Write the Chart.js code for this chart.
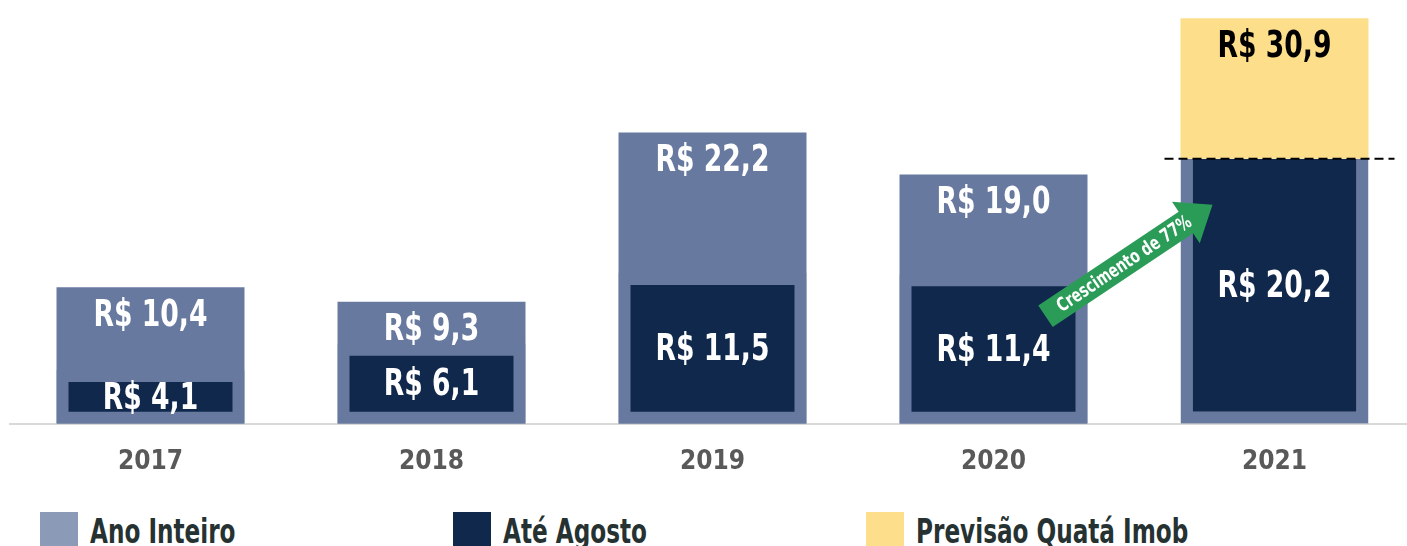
<!DOCTYPE html>
<html>
<head>
<meta charset="utf-8">
<script src="https://cdn.jsdelivr.net/npm/chart.js@4"></script>
<style>
  body { margin: 0; background: #fff; overflow: hidden; width: 1407px; height: 546px; position: relative; }
  #wrap { position: absolute; left: 0; top: 0; width: 1415px; height: 501px; }
  #legend { position: absolute; left: 40px; top: 512px; display: flex; }
  .item { width: 413px; display: flex; align-items: flex-start; }
  .sw { width: 38px; height: 40px; margin-right: 12px; flex: none; }
  .lbl { font: bold 33px "DejaVu Sans Condensed", sans-serif; color: #263232; transform: scaleX(0.78); transform-origin: left top; white-space: nowrap; margin-top: 0px; }
</style>
</head>
<body>
<div id="wrap"><canvas id="chart"></canvas></div>
<div id="legend"></div>
<script>
// data
const years = ['2017', '2018', '2019', '2020', '2021'];
const anoInteiro = [10.4, 9.3, 22.2, 19.0, null];
const ateAgosto = [4.1, 6.1, 11.5, 11.4, 20.2];
const previsao = [null, null, null, null, [20.2, 30.9]];
const seriesNames = ['Ano Inteiro', 'Até Agosto', 'Previsão Quatá Imob'];
const growthText = 'Crescimento de 77%';

const slate = '#68799f';
const navy = '#10284c';
const yellow = '#fddf8b';
const legendColors = ['#8b9ab7', navy, yellow];

function fmt(v) {
  return 'R$ ' + v.toFixed(1).replace('.', ',');
}

// condensed text: squeeze horizontally around x
function narrowText(ctx, text, x, y, sx) {
  ctx.save();
  ctx.translate(x, y);
  ctx.scale(sx, 1);
  ctx.fillText(text, 0, 0);
  ctx.restore();
}

const labelFont = 'bold 37px "DejaVu Sans Condensed", sans-serif';

// bar labels, dashed line and growth arrow
const extras = {
  id: 'extras',
  afterDatasetsDraw(chart) {
    const ctx = chart.ctx;
    const xs = chart.scales.x, ys = chart.scales.y;
    ctx.save();
    ctx.font = labelFont;
    ctx.textAlign = 'center';
    ctx.textBaseline = 'middle';

    chart.data.datasets.forEach((ds, di) => {
      const meta = chart.getDatasetMeta(di);
      meta.data.forEach((bar, i) => {
        const raw = ds.data[i];
        if (raw == null) return;
        if (di === 1) {
          const top = i === 4 ? bar.y : bar.y + 12;
          ctx.fillStyle = '#fff';
          narrowText(ctx, fmt(raw), bar.x, (top + bar.base - 12) / 2 + 2, 0.8);
        } else {
          const v = Array.isArray(raw) ? raw[1] : raw;
          const top = Math.min(bar.y, bar.base);
          ctx.fillStyle = di === 2 ? '#000' : '#fff';
          narrowText(ctx, fmt(v), bar.x, top + 29, 0.8);
        }
      });
    });

    // dashed line at end of Até Agosto 2021
    const x21 = xs.getPixelForValue(4);
    const yd = ys.getPixelForValue(ateAgosto[4]);
    ctx.strokeStyle = '#000';
    ctx.lineWidth = 2;
    ctx.setLineDash([9, 5]);
    ctx.beginPath();
    ctx.moveTo(x21 - 110, yd);
    ctx.lineTo(x21 + 120, yd);
    ctx.stroke();
    ctx.setLineDash([]);

    // growth arrow
    const x20 = xs.getPixelForValue(3);
    const ax = x20 + 52, ay = ys.getPixelForValue(8.2);
    const bx = x21 - 62, by = ys.getPixelForValue(16.7);
    const ang = Math.atan2(by - ay, bx - ax);
    const len = Math.hypot(bx - ax, by - ay);
    ctx.translate(ax, ay);
    ctx.rotate(ang);
    const hw = 13, headW = 25, headL = 32;
    ctx.fillStyle = '#2b9c58';
    ctx.beginPath();
    ctx.moveTo(0, -hw);
    ctx.lineTo(len - headL, -hw);
    ctx.lineTo(len - headL, -headW);
    ctx.lineTo(len, 0);
    ctx.lineTo(len - headL, headW);
    ctx.lineTo(len - headL, hw);
    ctx.lineTo(0, hw);
    ctx.closePath();
    ctx.fill();
    ctx.fillStyle = '#fff';
    ctx.font = 'bold 19px "DejaVu Sans Condensed", sans-serif';
    narrowText(ctx, growthText, (len - headL) / 2 + 10, 1, 0.8);
    ctx.restore();
  }
};

const chart = new Chart(document.getElementById('chart'), {
  type: 'bar',
  data: {
    labels: years,
    datasets: [
      {
        label: seriesNames[0],
        data: anoInteiro,
        backgroundColor: slate,
        order: 2
      },
      {
        label: seriesNames[1],
        data: ateAgosto,
        backgroundColor: navy,
        borderColor: slate,
        borderWidth: ctx => ctx.dataIndex === 4
          ? { top: 0, left: 12, right: 12, bottom: 12 }
          : 12,
        borderSkipped: false,
        order: 1
      },
      {
        label: seriesNames[2],
        data: previsao,
        backgroundColor: yellow,
        order: 0
      }
    ]
  },
  options: {
    responsive: true,
    maintainAspectRatio: false,
    animation: false,
    layout: { padding: { left: 10, right: 0, top: 0, bottom: 0 } },
    datasets: { bar: { categoryPercentage: 1, barPercentage: 0.669 } },
    plugins: {
      legend: { display: false },
      tooltip: { enabled: false }
    },
    scales: {
      x: {
        stacked: true,
        grid: { display: false, drawTicks: false },
        border: { display: true, color: '#d9d9d9', width: 2 },
        ticks: {
          padding: 23,
          color: '#595959',
          font: { family: '"DejaVu Sans Condensed", sans-serif', size: 26, weight: 'bold' }
        }
      },
      y: {
        display: false,
        stacked: false,
        min: 0,
        max: 32.3
      }
    }
  },
  plugins: [extras]
});

// legend below chart
const legend = document.getElementById('legend');
chart.data.datasets.forEach((ds, i) => {
  const item = document.createElement('div');
  item.className = 'item';
  item.innerHTML = `<div class="sw" style="background:${legendColors[i]}"></div><div class="lbl">${ds.label}</div>`;
  legend.appendChild(item);
});
</script>
</body>
</html>
